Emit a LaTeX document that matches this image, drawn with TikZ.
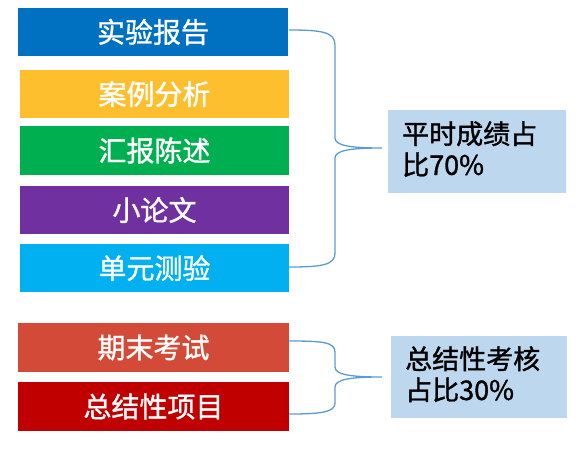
\documentclass[tikz,border=0pt]{standalone}
\usepackage{fontspec}
\setmainfont{Noto Sans CJK SC}
\newfontfamily\medcjk{Noto Sans CJK SC}[FakeBold=1.2]
\definecolor{cBlue}{HTML}{0070C0}
\definecolor{cYellow}{HTML}{FDBF2D}
\definecolor{cGreen}{HTML}{00B050}
\definecolor{cPurple}{HTML}{7030A0}
\definecolor{cCyan}{HTML}{00B0F0}
\definecolor{cRed}{HTML}{D34B38}
\definecolor{cDark}{HTML}{C00000}
\definecolor{cNote}{HTML}{BDD7EE}
\definecolor{cBrace}{HTML}{5B9BD5}
\begin{document}
\begin{tikzpicture}[x=1pt,y=-1pt,
  item/.style={rectangle,inner sep=0pt,minimum height=48pt,text=white,
    font=\medcjk\fontsize{28}{30}\selectfont},
  note/.style={rectangle,fill=cNote,inner sep=0pt,anchor=north west},
  notetext/.style={anchor=north west,inner sep=0pt,align=left,text=black,
    font=\medcjk\fontsize{27}{31}\selectfont},
  bracepath/.style={draw=cBrace,line width=1.3pt}]
\useasboundingbox (0,0) rectangle (578,450);
\node[item,fill=cBlue,minimum width=270pt] (a) at (153,32) {实验报告};
\node[item,fill=cYellow,minimum width=269pt] (b) at (154.5,94) {案例分析};
\node[item,fill=cGreen,minimum width=269pt,minimum height=49pt] (c) at (154.5,150.5) {汇报陈述};
\node[item,fill=cPurple,minimum width=269pt] (d) at (154.5,210) {小论文};
\node[item,fill=cCyan,minimum width=269pt] (e) at (154.5,268) {单元测验};
\node[item,fill=cRed,minimum width=271pt,minimum height=49pt] (f) at (153.5,347.5) {期末考试};
\node[item,fill=cDark,minimum width=271pt,minimum height=49pt] (g) at (153.5,406.5) {总结性项目};
\node[note,minimum width=178pt,minimum height=83pt] (n1) at (388,110) {};
\node[note,minimum width=176pt,minimum height=82pt] (n2) at (391,336) {};
\node[notetext] (t1) at (402,121) {平时成绩占\\比70\%};
\node[notetext] (t2) at (405,346) {总结性考核\\占比30\%};
\coordinate (b1s) at (289,30);
\coordinate (b1e) at (289,267);
\coordinate (b1t) at (382,148);
\coordinate (b2s) at (289,341);
\coordinate (b2e) at (289,414);
\coordinate (b2t) at (382,377);
\draw[bracepath] (b1s) .. controls (322,30) and (335,32) .. (335,45) -- (335,138)
  .. controls (335,146) and (352,148) .. (b1t)
  .. controls (352,148) and (335,150) .. (335,158) -- (335,253)
  .. controls (335,265) and (322,267) .. (b1e);
\draw[bracepath] (b2s) .. controls (322,341) and (335,342) .. (335,352) -- (335,367)
  .. controls (335,375) and (352,377) .. (b2t)
  .. controls (352,377) and (335,379) .. (335,387) -- (335,403)
  .. controls (335,412) and (322,414) .. (b2e);
\end{tikzpicture}
\end{document}
